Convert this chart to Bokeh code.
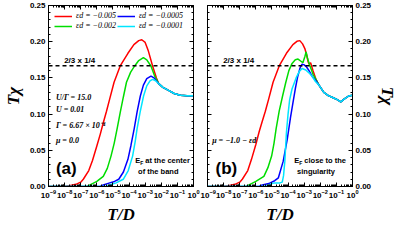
from bokeh.plotting import figure
from bokeh.layouts import row
from bokeh.models import (LogAxis, LinearAxis, FixedTicker, Span, Label,
                          Legend, LegendItem, CustomJSTickFormatter, PrintfTickFormatter, LogTickFormatter)
from bokeh.embed import file_html
from bokeh.resources import INLINE

# ---------------- data (log10(T/D), T*chi) ----------------
x_decades = list(range(-9, 1))
y_ticks = [0.0, 0.05, 0.10, 0.15, 0.20, 0.25]
ref_level = 2 / 3 * 1 / 4

tail_a_logT = [-2.16, -1.9, -1.58, -1.2, -0.82, -0.4, 0.0]
tail_a_val = [0.142, 0.137, 0.133, 0.1285, 0.126, 0.1255, 0.1255]
tail_b_logT = [-2.08, -1.78, -1.5, -1.2, -0.95, -0.73, -0.5, -0.24, 0.0]
tail_b_val = [0.140, 0.130, 0.1255, 0.1226, 0.120, 0.117, 0.121, 0.125, 0.126]

a_red_logT = [-9, -8.0, -7.7, -7.3, -7.0, -6.84, -6.5, -6.27, -6.0, -5.79, -5.6, -5.4, -5.2, -4.93,
              -4.55, -4.07, -3.7, -3.4, -3.21, -3.0, -2.8, -2.54, -2.3]
a_red_val = [0, 0, 0.001, 0.003, 0.006, 0.010, 0.022, 0.036, 0.056, 0.072, 0.088, 0.104, 0.121, 0.144,
             0.1665, 0.184, 0.196, 0.2015, 0.2027, 0.199, 0.187, 0.1665, 0.150]
a_green_logT = [-9, -6.6, -6.36, -6.0, -5.6, -5.35, -5.12, -4.92, -4.74, -4.55, -4.35, -4.16, -3.9,
                -3.65, -3.4, -3.11, -2.9, -2.64, -2.4]
a_green_val = [0, 0, 0.003, 0.007, 0.014, 0.025, 0.042, 0.060, 0.080, 0.102, 0.124, 0.144, 0.158,
               0.1665, 0.174, 0.178, 0.175, 0.1665, 0.152]
a_blue_logT = [-9, -5.8, -5.6, -5.2, -4.9, -4.64, -4.35, -4.07, -3.88, -3.68, -3.5, -3.3, -3.11,
               -2.9, -2.64, -2.45]
a_blue_val = [0, 0, 0.002, 0.005, 0.007, 0.010, 0.020, 0.0375, 0.057, 0.080, 0.103, 0.125, 0.140,
              0.149, 0.1525, 0.150]
a_cyan_logT = [-9, -5.4, -5.22, -4.8, -4.36, -4.05, -3.78, -3.62, -3.5, -3.31, -3.1, -2.9, -2.7,
               -2.54, -2.35]
a_cyan_val = [0, 0, 0.002, 0.005, 0.010, 0.022, 0.042, 0.062, 0.080, 0.103, 0.125, 0.139, 0.146,
              0.148, 0.146]

b_red_logT = [-9, -8.0, -7.7, -7.3, -7.0, -6.84, -6.5, -6.27, -6.0, -5.79, -5.6, -5.41, -5.2, -4.93,
              -4.55, -4.1, -3.7, -3.45, -3.27, -3.1, -2.95, -2.85, -2.75, -2.69, -2.6, -2.45, -2.27]
b_red_val = [0, 0, 0.001, 0.003, 0.006, 0.010, 0.022, 0.0375, 0.058, 0.076, 0.090, 0.104, 0.121,
             0.144, 0.1665, 0.184, 0.196, 0.2005, 0.2015, 0.197, 0.190, 0.182, 0.172, 0.169, 0.171,
             0.160, 0.148]
b_green_logT = [-9, -6.6, -6.36, -6.0, -5.5, -5.25, -5.02, -4.87, -4.74, -4.55, -4.35, -4.15, -3.95,
                -3.75, -3.55, -3.38, -3.2, -3.08, -2.95, -2.88, -2.78, -2.65, -2.45, -2.27]
b_green_val = [0, 0, 0.003, 0.007, 0.014, 0.026, 0.042, 0.060, 0.080, 0.104, 0.124, 0.143, 0.160,
               0.170, 0.175, 0.176, 0.173, 0.171, 0.180, 0.186, 0.176, 0.167, 0.155, 0.148]
b_blue_logT = [-9, -5.8, -5.6, -5.2, -4.83, -4.6, -4.3, -4.05, -3.85, -3.7, -3.55, -3.4, -3.25,
               -3.13, -3.0, -2.85, -2.7, -2.5, -2.27]
b_blue_val = [0, 0, 0.002, 0.004, 0.008, 0.012, 0.035, 0.065, 0.095, 0.115, 0.135, 0.152, 0.164,
              0.169, 0.168, 0.165, 0.160, 0.152, 0.146]
b_cyan_logT = [-9, -5.5, -5.3, -5.0, -4.83, -4.5, -4.36, -4.28, -4.2, -4.1, -4.0, -3.9, -3.75, -3.5,
               -3.3, -3.13, -2.9, -2.7, -2.5, -2.3]
b_cyan_val = [0, 0, 0.001, 0.004, 0.005, 0.005, 0.006, 0.015, 0.035, 0.075, 0.100, 0.120, 0.135,
              0.150, 0.159, 0.163, 0.161, 0.157, 0.152, 0.145]

series_labels = ["εd = −0.005", "εd = −0.002", "εd = −0.0005", "εd = −0.0001"]
colors = ["#ff0000", "#00dd00", "#0000ff", "#00e5ff"]

panel_a = [(a_red_logT, a_red_val), (a_green_logT, a_green_val),
           (a_blue_logT, a_blue_val), (a_cyan_logT, a_cyan_val)]
panel_b = [(b_red_logT, b_red_val), (b_green_logT, b_green_val),
           (b_blue_logT, b_blue_val), (b_cyan_logT, b_cyan_val)]

TICK_FONT = "Liberation Sans"
SERIF = "Liberation Serif"
blank = CustomJSTickFormatter(code="return ''")


def style_axis(ax, labeled):
    ax.major_tick_in = 4
    ax.major_tick_out = 0
    ax.minor_tick_in = 2
    ax.minor_tick_out = 0
    ax.axis_line_color = "black"
    ax.major_tick_line_color = "black"
    ax.minor_tick_line_color = "black"
    ax.major_label_text_font = TICK_FONT
    ax.major_label_text_font_style = "bold"
    ax.major_label_text_font_size = "8px"
    ax.major_label_text_color = "black"
    ax.major_label_standoff = 3 if labeled else 0
    ax.axis_label_text_font = SERIF
    ax.axis_label_text_font_style = "bold italic"
    ax.axis_label_text_font_size = "17px"
    ax.axis_label_text_color = "black"
    ax.axis_label_standoff = 4


def x_ticker():
    return FixedTicker(ticks=[10.0 ** k for k in x_decades],
                       minor_ticks=[m * 10.0 ** k for k in x_decades[:-1] for m in range(2, 10)])


def y_ticker():
    return FixedTicker(ticks=y_ticks,
                       minor_ticks=[i / 100 for i in range(0, 26)])


def make_panel(curves, side):
    p = figure(width=200, height=226, x_axis_type="log", x_range=(1e-9, 1.0), y_range=(0, 0.25),
               x_axis_location=None, y_axis_location=None,
               output_backend="svg", toolbar_location=None)
    p.min_border_top = 5
    p.min_border_bottom = 36
    if side == "left":
        p.min_border_left = 38
        p.min_border_right = 7
    else:
        p.min_border_left = 7
        p.min_border_right = 38
    p.outline_line_color = "black"
    p.outline_line_width = 1
    p.xgrid.visible = False
    p.ygrid.visible = False
    p.background_fill_color = "white"
    p.border_fill_color = "white"

    bottom = LogAxis(ticker=x_ticker(), formatter=LogTickFormatter(), axis_label="T/D")
    top = LogAxis(ticker=x_ticker(), formatter=blank)
    style_axis(bottom, True)
    style_axis(top, False)
    p.add_layout(bottom, "below")
    p.add_layout(top, "above")

    lab_y = LinearAxis(ticker=y_ticker(), formatter=PrintfTickFormatter(format="%.2f"), axis_label="Tχ")
    blank_y = LinearAxis(ticker=y_ticker(), formatter=blank)
    style_axis(lab_y, True)
    style_axis(blank_y, False)
    if side == "left":
        p.add_layout(lab_y, "left")
        p.add_layout(blank_y, "right")
    else:
        p.add_layout(blank_y, "left")
        p.add_layout(lab_y, "right")

    p.add_layout(Span(location=ref_level, dimension="width", line_color="black",
                      line_dash="4 3", line_width=1.5))

    rends = []
    tail = (tail_a_logT, tail_a_val) if side == "left" else (tail_b_logT, tail_b_val)
    for (lt, v), c in zip(curves, colors):
        xs = [10.0 ** t for t in list(lt) + tail[0]]
        ys = list(v) + tail[1]
        rends.append(p.line(xs, ys, line_color=c, line_width=1.5))
    return p, rends


def add_text(p, x, y, text, size="8px", font=SERIF, style="bold italic", xo=0, yo=0):
    p.add_layout(Label(x=x, y=y, text=text, text_font=font, text_font_style=style,
                       text_font_size=size, text_baseline="middle", text_align="left",
                       text_color="black", x_offset=xo, y_offset=yo))


pa, ra = make_panel(panel_a, "left")
pb, rb = make_panel(panel_b, "right")

legend = Legend(items=[LegendItem(label=l, renderers=[r]) for l, r in zip(series_labels, ra)],
                ncols=2, location="top_left",
                label_text_font=SERIF, label_text_font_style="italic", label_text_font_size="8px",
                label_text_color="black",
                glyph_width=18, glyph_height=8, label_height=8, label_standoff=4,
                spacing=1, padding=2, margin=4,
                background_fill_alpha=0, border_line_alpha=0)
pa.add_layout(legend)

for p in (pa, pb):
    add_text(p, 10 ** -8.03, 0.1735, "2/3 x 1/4", font=TICK_FONT, style="bold")

add_text(pa, 10 ** -8.54, 0.1235, "U/Γ = 15.0")
add_text(pa, 10 ** -8.54, 0.1065, "U = 0.01")
add_text(pa, 10 ** -8.54, 0.084, "Γ = 6.67 × 10⁻⁴")
add_text(pa, 10 ** -8.54, 0.063, "μ = 0.0")
add_text(pa, 10 ** -8.54, 0.025, "(a)", size="17px", font=TICK_FONT, style="bold")
add_text(pa, 10 ** -3.61, 0.0354, "E", size="7.5px", font=TICK_FONT, style="bold")
add_text(pa, 10 ** -3.61, 0.0354, "F", size="5px", font=TICK_FONT, style="bold", xo=5, yo=-2)
add_text(pa, 10 ** -3.61, 0.0354, "at the center", size="7.5px", font=TICK_FONT, style="bold", xo=10)
add_text(pa, 10 ** -3.44, 0.021, "of the band", size="7.5px", font=TICK_FONT, style="bold")

add_text(pb, 10 ** -8.71, 0.063, "μ = −1.0 − εd")
add_text(pb, 10 ** -8.5, 0.025, "(b)", size="17px", font=TICK_FONT, style="bold")
add_text(pb, 10 ** -3.61, 0.0354, "E", size="7.5px", font=TICK_FONT, style="bold")
add_text(pb, 10 ** -3.61, 0.0354, "F", size="5px", font=TICK_FONT, style="bold", xo=5, yo=-2)
add_text(pb, 10 ** -3.61, 0.0354, "close to the", size="7.5px", font=TICK_FONT, style="bold", xo=10)
add_text(pb, 10 ** -3.44, 0.021, "singularity", size="7.5px", font=TICK_FONT, style="bold")

layout = row(pa, pb, spacing=0)
open("out.html", "w").write(file_html(layout, INLINE))
